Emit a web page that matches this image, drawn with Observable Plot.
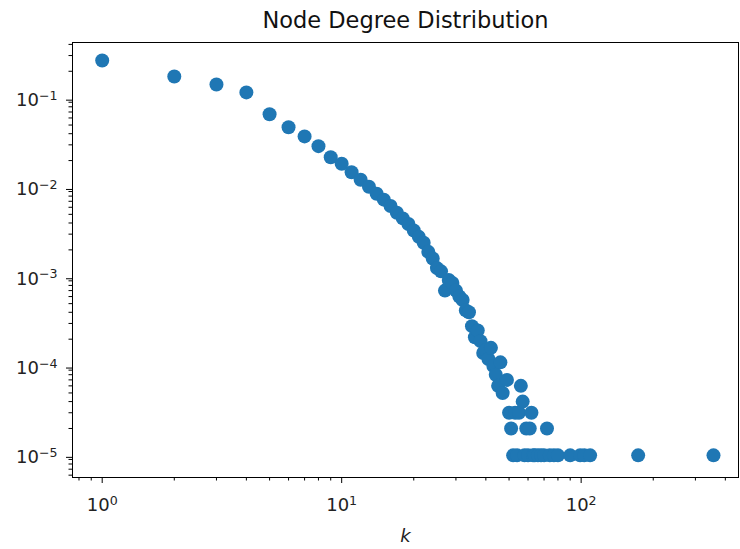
<!DOCTYPE html>
<html>
<head>
<meta charset="utf-8">
<script src="https://cdn.jsdelivr.net/npm/d3@7"></script>
<script src="https://cdn.jsdelivr.net/npm/@observablehq/plot@0.6"></script>
<style>
  html, body { margin: 0; padding: 0; background: #fff; }
  #chart svg { display: block; font-family: "DejaVu Sans", sans-serif; }
</style>
</head>
<body>
<div id="chart"></div>
<script>
// ---- data ----
const title = "Node Degree Distribution";
const xLabel = "k";
const degrees = [
  1, 2, 3, 4, 5, 6, 7, 8, 9, 10,
  11, 12, 13, 14, 15, 16, 17, 18, 19, 20,
  21, 22, 23, 24, 25, 26, 27, 28, 29, 30,
  31, 32, 33, 34, 35, 36, 37, 38, 39, 40,
  41, 42, 43, 44, 45, 46, 47, 49, 50, 51,
  52, 53, 54, 55, 56, 57, 58, 59, 60, 61,
  62, 63, 64, 66, 68, 70, 72, 74, 77, 80,
  90, 99, 103, 109, 173, 357
];
const probabilities = [
  0.264, 0.175, 0.142, 0.116, 0.066, 0.0473, 0.0373, 0.029, 0.0218, 0.0184,
  0.0148, 0.0122, 0.0102, 0.0085, 0.0073, 0.0062, 0.0052, 0.0045, 0.0039, 0.0033,
  0.0028, 0.0024, 0.0019, 0.0016, 0.00125, 0.00115, 0.0007, 0.00092, 0.00085, 0.0007,
  0.0006, 0.00055, 0.00042, 0.0004, 0.00028, 0.00021, 0.00025, 0.00019, 0.00014, 0.00015,
  0.00012, 0.00016, 0.0001, 0.00008, 0.00006, 0.00011, 0.00005, 0.00007, 0.00003, 0.00002,
  0.00001, 0.00003, 0.00001, 0.00003, 0.00006, 0.00004, 0.00001, 0.00002, 0.00001, 0.00002,
  0.00003, 0.00001, 0.00001, 0.00001, 0.00001, 0.00001, 0.00002, 0.00001, 0.00001, 0.00001,
  0.00001, 0.00001, 0.00001, 0.00001, 0.00001, 0.00001
];
const xMajorTicks = [1, 10, 100];
const xTickLabels = ["10^0", "10^1", "10^2"];
const yMajorTicks = [1e-5, 1e-4, 1e-3, 1e-2, 1e-1];
const yTickLabels = ["10^−5", "10^−4", "10^−3", "10^−2", "10^−1"];
const xDomain = [0.7516, 454];
const yDomain = [5.65e-6, 0.42];

const data = degrees.map((k, i) => ({k, p: probabilities[i]}));

function minorTicks(domain) {
  const out = [];
  const d0 = Math.floor(Math.log10(domain[0])), d1 = Math.ceil(Math.log10(domain[1]));
  for (let d = d0; d <= d1; d++) for (let m = 2; m <= 9; m++) {
    const v = +(m * Math.pow(10, d)).toPrecision(6);
    if (v >= domain[0] && v <= domain[1]) out.push(v);
  }
  return out;
}

const plot = Plot.plot({
  width: 740,
  height: 549,
  marginTop: 42,
  marginBottom: 72,
  marginLeft: 72,
  marginRight: 2,
  style: {fontFamily: "DejaVu Sans, sans-serif", color: "#000", background: "#fff"},
  x: {type: "log", domain: xDomain},
  y: {type: "log", domain: yDomain},
  marks: [
    Plot.dot(data, {x: "k", y: "p", r: 7, fill: "#1f77b4", stroke: "none"}),
    Plot.frame({stroke: "#000", strokeWidth: 1}),
    Plot.axisX(xMajorTicks, {anchor: "bottom", tickSize: 6, tickPadding: 15, fontSize: 18,
      tickFormat: (d) => xTickLabels[xMajorTicks.indexOf(d)], label: null, fill: "#222"}),
    Plot.axisX(minorTicks(xDomain), {anchor: "bottom", tickSize: 3.5, tickFormat: () => "", label: null}),
    Plot.axisY(yMajorTicks, {anchor: "left", tickSize: 6, tickPadding: 9, fontSize: 18, dy: 2,
      tickFormat: (d) => yTickLabels[yMajorTicks.indexOf(d)], label: null, fill: "#222"}),
    Plot.axisY(minorTicks(yDomain), {anchor: "left", tickSize: 3.5, tickFormat: () => "", label: null}),
    Plot.text([title], {frameAnchor: "top", lineAnchor: "middle", dy: -22, fontSize: 22.5, fill: "#111"}),
    Plot.text([xLabel], {frameAnchor: "bottom", lineAnchor: "middle", dy: 59, fontSize: 18, fontStyle: "italic", fill: "#222"})
  ]
});

// render exponents as raised smaller text
d3.select(plot).selectAll("text").each(function () {
  const t = this.textContent;
  const m = /^10\^(.+)$/.exec(t);
  if (!m) return;
  const sel = d3.select(this);
  sel.text("10");
  sel.append("tspan").attr("dy", "-0.5em").attr("font-size", "0.7em").text(m[1]);
});

document.getElementById("chart").appendChild(plot);
</script>
</body>
</html>
